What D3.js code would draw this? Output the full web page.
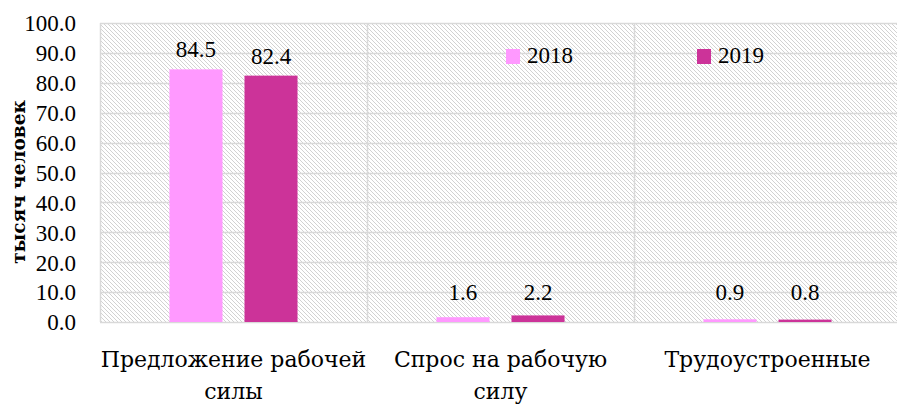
<!DOCTYPE html>
<html><head><meta charset="utf-8">
<script src="https://cdn.jsdelivr.net/npm/d3@7"></script>
</head>
<body style="margin:0;background:#fff">
<svg id="chart" width="897" height="405"></svg>
<script>
const categories = [["Предложение рабочей", "силы"], ["Спрос на рабочую", "силу"], ["Трудоустроенные"]];
const seriesNames = ["2018", "2019"];
const values2018 = [84.5, 1.6, 0.9];
const values2019 = [82.4, 2.2, 0.8];
const yTicks = [0, 10, 20, 30, 40, 50, 60, 70, 80, 90, 100];
const colors = ["#ff99ff", "#cc3399"];
const yTitle = "тысяч человек";

const NUMFONT = '"Times New Roman", "Liberation Serif", "Tinos", monospace';
const TXTFONT = '"DejaVu Serif", "Liberation Serif", monospace';
const svg = d3.select("#chart");
const W = 897, H = 405;
const m = {left: 100, right: -4, top: 23, bottom: 83};
const x = d3.scaleBand().domain(d3.range(categories.length)).range([m.left, W - m.right]);
const y = d3.scaleLinear().domain([0, 100]).range([H - m.bottom, m.top]);
const inner = d3.scaleBand().domain(seriesNames).range([0, x.bandwidth()]).paddingInner(0.293).paddingOuter(0.926);

const defs = svg.append("defs");
const pat = defs.append("pattern").attr("id", "hatch").attr("patternUnits", "userSpaceOnUse")
  .attr("width", 4).attr("height", 4);
pat.append("rect").attr("width", 4).attr("height", 4).attr("fill", "#fff");
pat.append("path").attr("d", "M-1,-1 L5,5 M-1,3 L1,5 M3,-1 L5,1")
  .attr("stroke", "#d2d2d2").attr("stroke-width", 1);

svg.append("rect").attr("x", m.left).attr("y", m.top)
  .attr("width", W - m.right - m.left).attr("height", y(0) - m.top).attr("fill", "url(#hatch)");

svg.append("g").selectAll("line").data(yTicks).join("line")
  .attr("x1", m.left).attr("x2", W - m.right)
  .attr("y1", d => Math.round(y(d)) + 0.5).attr("y2", d => Math.round(y(d)) + 0.5)
  .attr("stroke", "#d9d9d9").attr("stroke-width", 1.5);
svg.append("g").selectAll("line").data(d3.range(categories.length + 1)).join("line")
  .attr("x1", d => Math.round(m.left + d * x.step()) + 0.5).attr("x2", d => Math.round(m.left + d * x.step()) + 0.5)
  .attr("y1", m.top).attr("y2", y(0))
  .attr("stroke", "#d9d9d9").attr("stroke-width", 1.5);

const yAxis = d3.axisLeft(y).tickValues(yTicks).tickFormat(d3.format(".1f")).tickSize(0).tickPadding(24);
const ga = svg.append("g").attr("transform", `translate(${m.left},0)`).call(yAxis)
  .attr("font-family", null).attr("font-size", null);
ga.select(".domain").remove();
ga.selectAll("text").attr("fill", "#000").attr("dy", "0.34em")
  .attr("font-family", NUMFONT).attr("font-size", 23)
  .style("font-family", NUMFONT).style("font-size", "23px");

svg.append("text").attr("transform", "translate(25,182) rotate(-90)")
  .attr("text-anchor", "middle").attr("fill", "#000")
  .style("font-family", TXTFONT).style("font-size", "18.5px").style("font-weight", "bold").text(yTitle);

const data = [];
categories.forEach((c, i) => {
  data.push({cat: i, s: "2018", v: values2018[i], c: colors[0]});
  data.push({cat: i, s: "2019", v: values2019[i], c: colors[1]});
});
svg.append("g").selectAll("rect").data(data).join("rect")
  .attr("x", d => x(d.cat) + inner(d.s)).attr("width", inner.bandwidth())
  .attr("y", d => y(d.v)).attr("height", d => y(0) - y(d.v)).attr("fill", d => d.c);

svg.append("g").selectAll("text").data(data).join("text")
  .attr("x", d => x(d.cat) + inner(d.s) + inner.bandwidth() / 2)
  .attr("y", d => Math.min(y(d.v) - 12, y(0) - 22))
  .attr("text-anchor", "middle").attr("fill", "#000")
  .attr("font-family", NUMFONT).attr("font-size", 23)
  .style("font-family", NUMFONT).style("font-size", "23px")
  .text(d => d3.format(".1f")(d.v));

const cl = svg.append("g").selectAll("text").data(categories).join("text")
  .attr("x", (d, i) => x(i) + x.bandwidth() / 2).attr("y", 367)
  .attr("text-anchor", "middle").attr("fill", "#000")
  .style("font-family", TXTFONT).style("font-size", "22px");
cl.selectAll("tspan").data(d => d).join("tspan")
  .attr("x", function () { return d3.select(this.parentNode).attr("x"); })
  .attr("dy", (d, i) => i === 0 ? 0 : 32).text(d => d);

const legX = [506, 697];
const lg = svg.append("g").selectAll("g").data(seriesNames).join("g")
  .attr("transform", (d, i) => `translate(${legX[i]},49)`);
lg.append("rect").attr("width", 14).attr("height", 15).attr("fill", (d, i) => colors[i]);
lg.append("text").attr("x", 21).attr("y", 14).attr("fill", "#000")
  .attr("font-family", NUMFONT).attr("font-size", 23)
  .style("font-family", NUMFONT).style("font-size", "23px").text(d => d);
</script>
</body></html>
